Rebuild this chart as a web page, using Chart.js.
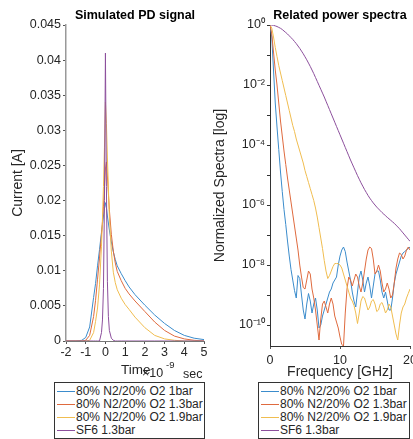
<!DOCTYPE html>
<html>
<head>
<meta charset="utf-8">
<script src="https://cdn.jsdelivr.net/npm/chart.js@4.4.1/dist/chart.umd.min.js"></script>
<style>
  body { margin: 0; background: #fff; width: 413px; height: 439px; overflow: hidden; position: relative;
         font-family: Arial, "Liberation Sans", sans-serif; }
  canvas { position: absolute; top: 0; }
  #pdChart { left: 0; }
  #specChart { left: 200px; }
  .legend { position: absolute; top: 382px; height: 57px; border: 1px solid #333; background: #fff;
            box-sizing: border-box; padding-top: 2px; font-size: 12px; color: #262626; }
  .legend div { height: 13px; line-height: 13px; white-space: nowrap; }
  .legend span { display: inline-block; width: 18px; height: 1px; vertical-align: middle; margin: 0 1px 0 2px; }
</style>
</head>
<body>
<canvas id="pdChart" width="230" height="382"></canvas>
<canvas id="specChart" width="213" height="382"></canvas>
<div class="legend" id="legendLeft" style="left:54px;width:151px"></div>
<div class="legend" id="legendRight" style="left:258px;width:152px"></div>
<script>
// series names / colours (MATLAB default order, a bit softened like the picture)
const seriesNames = ['80% N2/20% O2 1bar', '80% N2/20% O2 1.3bar', '80% N2/20% O2 1.9bar', 'SF6 1.3bar'];
const seriesColors = ['#3b8ccc', '#df6a3e', '#f0bd50', '#8c4f9c'];

// ---- Simulated PD signal (time in ns, current in A) ----
const timeNs = [-2, -1.5, -1.2, -1, -0.8, -0.6, -0.5, -0.4, -0.3, -0.2, -0.15, -0.1, -0.05, 0, 0.05, 0.1, 0.15,
  0.2, 0.3, 0.4, 0.5, 0.6, 0.8, 1.0, 1.2, 1.5, 2, 2.5, 3, 3.5, 4, 4.5, 5];
const currN2_1bar = [0, 0, 0.0001, 0.0005, 0.002, 0.0062, 0.0082, 0.0107, 0.013, 0.0155, 0.0166, 0.0178, 0.0188,
  0.0197, 0.019, 0.0178, 0.0168, 0.0158, 0.0141, 0.0127, 0.0116, 0.0107, 0.0096, 0.0086, 0.0077, 0.0066, 0.0051,
  0.0037, 0.0025, 0.0015, 0.0008, 0.0004, 0.0002];
const currN2_13bar = [0, 0, 0, 0.0001, 0.0008, 0.0035, 0.0058, 0.0088, 0.0118, 0.0152, 0.017, 0.0192, 0.0218,
  0.0245, 0.0255, 0.0235, 0.021, 0.0187, 0.0152, 0.0128, 0.0111, 0.0099, 0.0086, 0.0075, 0.0067, 0.0057, 0.0042,
  0.0027, 0.0015, 0.0007, 0.0003, 0.0001, 0];
const currN2_19bar = [0, 0, 0, 0, 0.0001, 0.0012, 0.0028, 0.0047, 0.008, 0.0135, 0.0175, 0.022, 0.0275,
  0.034, 0.031, 0.0262, 0.0218, 0.0177, 0.0128, 0.0098, 0.0083, 0.0073, 0.0061, 0.0052, 0.0045, 0.0034, 0.0019,
  0.0008, 0.0003, 0.0001, 0, 0, 0];
const currSF6_13bar = [0, 0, 0, 0, 0, 0, 0, 0, 0, 0.0012, 0.003, 0.0075, 0.02,
  0.041, 0.022, 0.0085, 0.0035, 0.0015, 0.0004, 0.0001, 0, 0, 0, 0, 0, 0, 0,
  0, 0, 0, 0, 0, 0];
const currentTicks = [0, 0.005, 0.01, 0.015, 0.02, 0.025, 0.03, 0.035, 0.04, 0.045];

// ---- Related power spectra (GHz, exponents) ----
const freqGHz = [0, 0.25, 0.5, 0.75, 1, 1.25, 1.5, 1.75, 2, 2.25, 2.5, 2.75, 3, 3.25, 3.5, 3.75, 4, 4.25, 4.5, 4.75,
  5, 5.25, 5.5, 5.75, 6, 6.25, 6.5, 6.75, 7, 7.25, 7.5, 7.75, 8, 8.25, 8.5, 8.75, 9, 9.25, 9.5, 9.75,
  10, 10.25, 10.5, 10.75, 11, 11.25, 11.5, 11.75, 12, 12.25, 12.5, 12.75, 13, 13.25, 13.5, 13.75, 14, 14.25, 14.5, 14.75,
  15, 15.25, 15.5, 15.75, 16, 16.25, 16.5, 16.75, 17, 17.25, 17.5, 17.75, 18, 18.25, 18.5, 18.75, 19, 19.25, 19.5, 19.75, 20];
const specN2_1bar_exp = [0, -0.4, -1.5, -2.6, -3.4, -4.15, -4.9, -5.55, -6.15, -6.65, -7.2, -7.7, -8.15, -8.5, -8.85, -9.1,
  -8.35, -8.45, -9.0, -9.5, -9.8, -9.3, -8.95, -9.2, -9.6, -9.3, -9.1, -9.5, -10.1, -10.0, -9.7, -9.5, -9.3, -9.1, -8.9, -8.8,
  -8.6, -8.5, -8.4, -8.0, -7.7, -7.5, -7.4, -7.55, -7.9, -8.2, -8.5, -8.9, -9.2, -9.4, -8.9, -8.4, -8.2, -8.5, -8.9, -8.6,
  -8.4, -8.7, -9.1, -8.7, -8.3, -8.2, -8.2, -8.5, -8.9, -9.1, -8.9, -9.2, -9.5, -9.5, -9.1, -8.6, -8.3, -8.1, -7.9, -7.7,
  -7.6, -7.55, -7.5, -7.45, -7.4];
const specN2_13bar_exp = [0, -0.3, -0.9, -1.5, -2.0, -2.6, -3.2, -3.7, -4.2, -4.65, -5.1, -5.5, -5.9, -6.3, -6.7, -7.1,
  -7.5, -8.0, -8.4, -8.75, -8.8, -8.5, -8.2, -8.3, -8.8, -9.1, -9.5, -10.0, -10.5, -9.8, -9.3, -9.2, -9.4, -9.6, -9.3, -9.1,
  -9.3, -9.7, -9.9, -10.1, -10.4, -10.65, -10.7, -9.6, -8.8, -8.4, -8.5, -8.7, -8.5, -8.3, -8.4, -8.7, -8.9, -8.6, -8.2, -7.8,
  -7.5, -7.4, -7.45, -7.8, -8.3, -8.2, -8.0, -8.2, -8.6, -8.9, -8.8, -8.6, -8.8, -9.1, -9.0, -8.6, -8.1, -7.8, -7.6, -7.65,
  -7.8, -7.7, -7.5, -7.4, -7.5];
const specN2_19bar_exp = [0, -0.1, -0.4, -0.75, -1.05, -1.35, -1.6, -1.85, -2.1, -2.35, -2.6, -2.85, -3.1, -3.35, -3.55, -3.8,
  -4.0, -4.2, -4.4, -4.6, -4.85, -5.05, -5.25, -5.45, -5.65, -5.85, -6.1, -6.4, -6.75, -7.1, -7.45, -7.85, -8.2, -8.45, -8.35, -8.2,
  -8.05, -7.95, -7.95, -7.95, -8.0, -8.1, -8.3, -8.5, -8.7, -8.9, -9.1, -9.2, -9.35, -9.6, -9.95, -9.6, -9.2, -9.05, -9.1, -9.3,
  -9.5, -9.4, -9.2, -9.15, -9.3, -9.55, -9.5, -9.3, -9.25, -9.4, -9.6, -9.5, -9.3, -9.4, -9.7, -10.0, -10.3, -10.5, -10.0, -9.6,
  -9.4, -9.3, -9.1, -8.95, -8.8];
const specSF6_13bar_exp = [0, -0.003, -0.01, -0.03, -0.05, -0.08, -0.11, -0.15, -0.2, -0.25, -0.3, -0.36, -0.42, -0.48, -0.55, -0.62,
  -0.7, -0.78, -0.87, -0.96, -1.06, -1.16, -1.27, -1.38, -1.5, -1.62, -1.75, -1.88, -2.01, -2.14, -2.27, -2.4, -2.54, -2.68, -2.82, -2.96,
  -3.1, -3.24, -3.38, -3.52, -3.66, -3.8, -3.94, -4.08, -4.22, -4.36, -4.5, -4.63, -4.76, -4.89, -5.02, -5.14, -5.26, -5.37, -5.48, -5.58,
  -5.68, -5.77, -5.85, -5.93, -6.0, -6.07, -6.13, -6.19, -6.25, -6.3, -6.36, -6.41, -6.46, -6.51, -6.56, -6.61, -6.67, -6.73, -6.79, -6.86,
  -6.93, -7.0, -7.07, -7.14, -7.21];
const specTicks = [1e-10, 1e-9, 1e-8, 1e-7, 1e-6, 1e-5, 1e-4, 1e-3, 1e-2, 1e-1, 1];

const txt = '#262626';
const fam = 'Arial, "Liberation Sans", sans-serif';
const tickFont = { family: fam, size: 12.5 };
const sup = { '0': '⁰', '1': '¹', '2': '²', '3': '³', '4': '⁴', '5': '⁵', '6': '⁶', '7': '⁷', '8': '⁸', '9': '⁹', '-': '⁻' };

function lineSet(i, xs, ys) {
  return {
    label: seriesNames[i],
    data: xs.map((x, k) => ({ x: x, y: ys[k] })),
    borderColor: seriesColors[i],
    borderWidth: 1,
    pointRadius: 0,
    tension: 0,
    order: 4 - i   // later series drawn on top, like MATLAB
  };
}

// Time label with MATLAB-style exponent
const timeLabel = {
  id: 'timeLabel',
  afterDraw(chart) {
    const c = chart.ctx;
    c.save();
    c.fillStyle = txt;
    c.textBaseline = 'middle';
    c.textAlign = 'left';
    c.font = '13.5px ' + fam;
    c.fillText('Time', 121, 370);
    c.font = '12.5px ' + fam;
    c.fillText('×10', 142, 374);
    c.font = '9.5px ' + fam;
    c.fillText('-9', 166, 365);
    c.font = '12.5px ' + fam;
    c.fillText('sec', 183, 375);
    c.restore();
  }
};

new Chart(document.getElementById('pdChart'), {
  type: 'line',
  data: {
    datasets: [
      lineSet(0, timeNs, currN2_1bar),
      lineSet(1, timeNs, currN2_13bar),
      lineSet(2, timeNs, currN2_19bar),
      lineSet(3, timeNs, currSF6_13bar)
    ]
  },
  options: {
    responsive: false,
    animation: false,
    layout: { padding: { left: 0, right: 26, top: 0, bottom: 0 } },
    plugins: {
      legend: { display: false },
      tooltip: { enabled: false },
      title: {
        display: true, text: 'Simulated PD signal', fullSize: false, color: '#000',
        font: { family: fam, size: 12.5, weight: 'bold' }, padding: { top: 8, bottom: 2 }
      }
    },
    scales: {
      x: {
        type: 'linear', min: -2, max: 5,
        ticks: { stepSize: 1, color: txt, font: tickFont, padding: 1, maxRotation: 0 },
        grid: { drawOnChartArea: false, tickLength: 3, color: '#555' },
        border: { color: '#777' },
        afterFit: s => { s.height = 382 - 341; }
      },
      y: {
        type: 'linear', min: 0, max: 0.045,
        afterBuildTicks: s => { s.ticks = currentTicks.map(v => ({ value: v })); },
        ticks: { color: txt, font: tickFont, padding: 2, callback: v => String(Number(v.toFixed(4))) },
        grid: { drawOnChartArea: false, tickLength: 3, color: '#555' },
        border: { color: '#999', width: 1.5 },
        title: { display: true, text: 'Current [A]', color: txt, font: { family: fam, size: 14 }, padding: { top: 10, bottom: 0 } },
        afterFit: s => { s.width = 66; }
      }
    }
  },
  plugins: [timeLabel]
});

new Chart(document.getElementById('specChart'), {
  type: 'line',
  data: {
    datasets: [
      lineSet(0, freqGHz, specN2_1bar_exp.map(e => 10 ** e)),
      lineSet(1, freqGHz, specN2_13bar_exp.map(e => 10 ** e)),
      lineSet(2, freqGHz, specN2_19bar_exp.map(e => 10 ** e)),
      lineSet(3, freqGHz, specSF6_13bar_exp.map(e => 10 ** e))
    ]
  },
  options: {
    responsive: false,
    animation: false,
    layout: { padding: { left: 0, right: 3, top: 0, bottom: 0 } },
    plugins: {
      legend: { display: false },
      tooltip: { enabled: false },
      title: {
        display: true, text: 'Related power spectra', fullSize: false, color: '#000',
        font: { family: fam, size: 12.5, weight: 'bold' }, padding: { top: 8, bottom: 2 }
      }
    },
    scales: {
      x: {
        type: 'linear', min: 0, max: 20,
        ticks: { stepSize: 10, color: txt, font: tickFont, padding: 4, maxRotation: 0 },
        grid: { drawOnChartArea: false, tickLength: 3, color: '#555' },
        border: { color: '#333' },
        title: { display: true, text: 'Frequency [GHz]', color: txt, font: { family: fam, size: 14 }, padding: { top: 0, bottom: 1 } },
        afterFit: s => { s.height = 382 - 346; s.paddingRight = 0; }
      },
      y: {
        type: 'logarithmic', min: 2e-11, max: 1,
        afterBuildTicks: s => { s.ticks = specTicks.map(v => ({ value: v })); },
        ticks: {
          color: txt, font: tickFont, padding: 2, autoSkip: false,
          callback: v => {
            const e = Math.round(Math.log10(v));
            return e % 2 === 0 ? '10' + String(e).split('').map(ch => sup[ch]).join('') : '';
          }
        },
        grid: { drawOnChartArea: false, tickLength: 3, color: '#333' },
        border: { color: '#333' },
        title: { display: true, text: 'Normalized Spectra [log]', color: txt, font: { family: fam, size: 14 }, padding: { top: 12, bottom: 0 } },
        afterFit: s => { s.width = 70; }
      }
    }
  }
});

// boxed legends under each plot
['legendLeft', 'legendRight'].forEach(id => {
  document.getElementById(id).innerHTML = seriesNames.map((n, i) =>
    '<div><span style="background:' + seriesColors[i] + '"></span>' + n + '</div>').join('');
});
</script>
</body>
</html>
